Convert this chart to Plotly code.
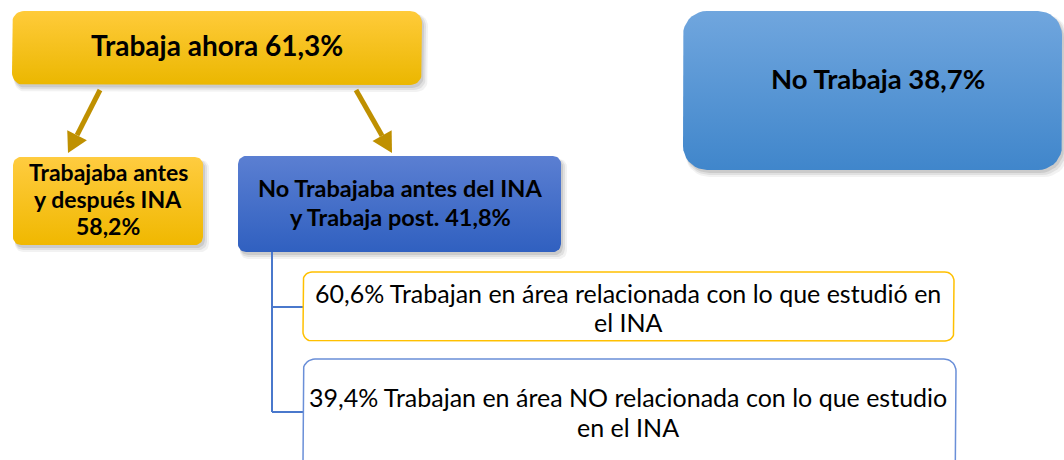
import numpy as np
import plotly.graph_objects as go

W, H = 1064, 460

# ---- data ----
pct_trabaja = 61.3
pct_no_trabaja = 38.7
pct_antes_despues = 58.2
pct_no_antes = 41.8
pct_relacionada = 60.6
pct_no_relacionada = 39.4


def fmt(v):
    return f"{v:.1f}".replace(".", ",") + "%"


lbl_trabaja = [f"Trabaja ahora {fmt(pct_trabaja)}"]
lbl_no_trabaja = [f"No Trabaja {fmt(pct_no_trabaja)}"]
lbl_antes = ["Trabajaba antes", "y después INA", fmt(pct_antes_despues)]
lbl_no_antes = ["No Trabajaba antes del INA", f"y Trabaja post. {fmt(pct_no_antes)}"]
lbl_rel = [f"{fmt(pct_relacionada)} Trabajan en área relacionada con lo que estudió en", "el INA"]
lbl_norel = [f"{fmt(pct_no_relacionada)} Trabajan en área NO relacionada con lo que estudio", "en el INA"]

FONT = "Lato"

fig = go.Figure()


def rrect(x0, y0, x1, y1, r, n=10):
    xs, ys = [], []
    for cx, cy, a0 in [(x1 - r, y0 + r, -90), (x1 - r, y1 - r, 0), (x0 + r, y1 - r, 90), (x0 + r, y0 + r, 180)]:
        t = np.radians(np.linspace(a0, a0 + 90, n))
        xs += list(cx + r * np.cos(t))
        ys += list(cy + r * np.sin(t))
    xs.append(xs[0]); ys.append(ys[0])
    return xs, ys


def shadow(x0, y0, x1, y1, r):
    for d, a in [(6, 0.05), (4, 0.07), (2, 0.09)]:
        xs, ys = rrect(x0 + 2, y0 + 3, x1 + d, y1 + d + 1, r)
        fig.add_trace(go.Scatter(x=xs, y=ys, fill="toself", mode="lines", line=dict(width=0),
                                 fillcolor=f"rgba(0,0,0,{a})", hoverinfo="skip", showlegend=False))


def gbox(x0, y0, x1, y1, r, c_top, c_bot):
    shadow(x0, y0, x1, y1, r)
    xs, ys = rrect(x0, y0, x1, y1, r)
    fig.add_trace(go.Scatter(x=xs, y=ys, fill="toself", mode="lines", line=dict(width=0),
                             fillgradient=dict(type="vertical", start=y0, stop=y1,
                                               colorscale=[[0, c_top], [1, c_bot]]),
                             hoverinfo="skip", showlegend=False))


def obox(x0, y0, x1, y1, r, col):
    xs, ys = rrect(x0, y0, x1, y1, r)
    fig.add_trace(go.Scatter(x=xs, y=ys, fill="toself", mode="lines", line=dict(width=1.5, color=col),
                             fillcolor="white", hoverinfo="skip", showlegend=False))


def text_lines(lines, cx, ys, size, bold=True):
    for s, y in zip(lines, ys):
        fig.add_annotation(x=cx, y=y, xref="x", yref="y", showarrow=False,
                           text=f"<b>{s}</b>" if bold else s,
                           font=dict(family=FONT, size=size, color="black"),
                           xanchor="center", yanchor="middle")


def arrow(xa, ya, xb, yb, col, w=5, hl=20, hw=11):
    d = np.array([xb - xa, yb - ya], float)
    u = d / np.linalg.norm(d)
    p = np.array([-u[1], u[0]])
    base = np.array([xb, yb]) - hl * u
    fig.add_trace(go.Scatter(x=[xa, base[0]], y=[ya, base[1]], mode="lines",
                             line=dict(color=col, width=w), hoverinfo="skip", showlegend=False))
    tri = [base + hw * p, np.array([xb, yb]), base - hw * p, base + hw * p]
    fig.add_trace(go.Scatter(x=[t[0] for t in tri], y=[t[1] for t in tri], mode="lines", fill="toself",
                             fillcolor=col, line=dict(width=0), hoverinfo="skip", showlegend=False))


GOLD_T, GOLD_B = "#FFCB3A", "#EBB700"
ARROW = "#BF9000"

# top gold box
gbox(12, 11, 422, 85, 12, GOLD_T, GOLD_B)
text_lines(lbl_trabaja, 217, [45], 28)

# No trabaja box
gbox(683, 11, 1062, 170, 24, "#70A6DE", "#4086CB")
text_lines(lbl_no_trabaja, 878, [78], 27.5)

# arrows
arrow(100, 90, 68, 153, ARROW)
arrow(356, 90, 392, 153, ARROW)

# second-level boxes
gbox(13, 157, 203, 245, 8, "#FFCC40", "#F0B800")
text_lines(lbl_antes, 108, [172, 199, 226], 23)

gbox(238, 156, 561, 252, 8, "#5B7FD2", "#3060C0")
text_lines(lbl_no_antes, 400, [188, 217], 23.5)

# connector
CONN = "#4A78CC"
fig.add_trace(go.Scatter(x=[272, 272, None, 272, 303, None, 272, 303], y=[252, 412, None, 307, 307, None, 412, 412],
                         mode="lines", line=dict(color=CONN, width=2), hoverinfo="skip", showlegend=False))

# outlined boxes
obox(303, 272, 954, 341, 9, "#FFC000")
text_lines(lbl_rel, 628, [293, 322], 25, bold=False)

obox(303, 359, 956, 475, 12, "#6A8FD8")
text_lines(lbl_norel, 628, [397, 427], 25, bold=False)

fig.update_layout(
    width=W, height=H, margin=dict(l=0, r=0, t=0, b=0),
    paper_bgcolor="white", plot_bgcolor="white",
    xaxis=dict(range=[0, W], visible=False, fixedrange=True),
    yaxis=dict(range=[H, 0], visible=False, fixedrange=True),
    showlegend=False,
)

fig.write_html("out.html", config={"displayModeBar": False},
               post_script="document.body.style.margin='0';document.body.style.overflow='hidden';")
